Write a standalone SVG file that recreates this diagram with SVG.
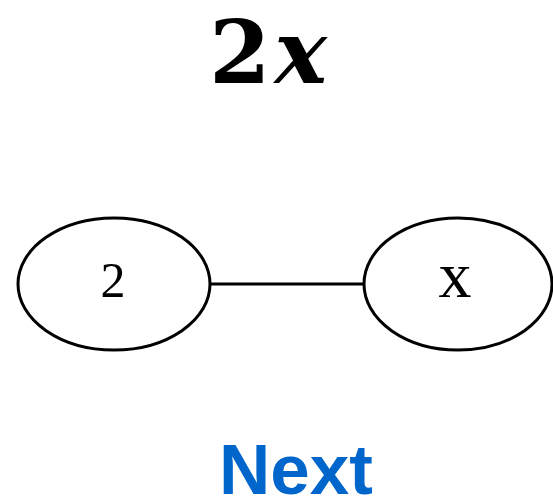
<svg xmlns="http://www.w3.org/2000/svg" width="553" height="503" viewBox="0 0 553 503">
  <style>
    .node { fill: #ffffff; stroke: #000000; stroke-width: 3; }
    .edge { stroke: #000000; stroke-width: 3; fill: none; }
    .label { font-family: "Liberation Serif", "Times New Roman", serif; fill: #000000; text-anchor: middle; }
  </style>
  <rect width="553" height="503" fill="#ffffff"/>
  <!-- expression title -->
  <g id="title">
    <text x="268" y="83" text-anchor="middle" font-family="'DejaVu Serif', 'Liberation Serif', serif" font-weight="bold" font-size="88"><tspan>2</tspan><tspan dx="4" font-style="italic">x</tspan></text>
  </g>
  <!-- connectors -->
  <g id="edges">
    <line class="edge" x1="210" y1="284" x2="365" y2="284"/>
  </g>
  <g id="node-2">
    <ellipse class="node" cx="114" cy="284" rx="96" ry="66"/>
    <text class="label" x="113" y="297" font-size="50">2</text>
  </g>
  <g id="node-x">
    <ellipse class="node" cx="458" cy="284" rx="94" ry="66"/>
    <text class="label" x="455" y="297" font-size="66">x</text>
  </g>
  <!-- navigation link -->
  <g id="next">
    <text x="296" y="494" text-anchor="middle" font-family="'Liberation Sans', Arial, sans-serif" font-weight="bold" font-size="71" fill="#0066cc">Next</text>
  </g>
</svg>
